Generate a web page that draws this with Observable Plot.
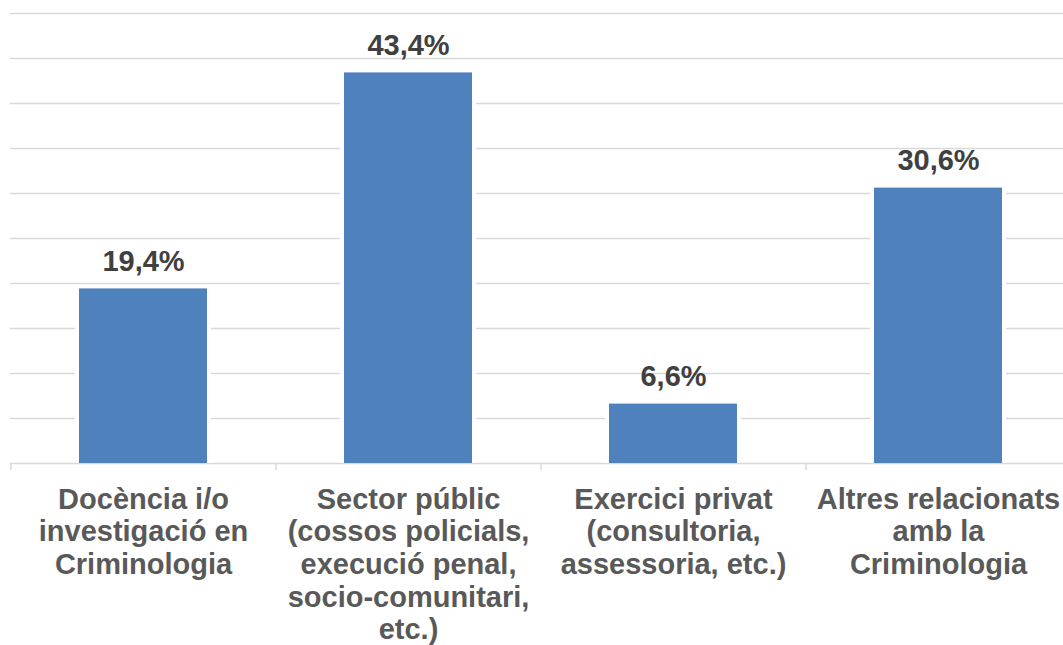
<!DOCTYPE html>
<html>
<head>
<meta charset="utf-8">
<script src="https://cdn.jsdelivr.net/npm/d3@7"></script>
<script src="https://cdn.jsdelivr.net/npm/@observablehq/plot@0.6"></script>
<style>
  html, body { margin: 0; padding: 0; background: #fff; overflow: hidden; }
  #chart svg { display: block; font-family: "Liberation Sans", Arial, sans-serif; }
</style>
</head>
<body>
<div id="chart"></div>
<script>
const categories = [
  "Docència i/o\ninvestigació en\nCriminologia",
  "Sector públic\n(cossos policials,\nexecució penal,\nsocio-comunitari,\netc.)",
  "Exercici privat\n(consultoria,\nassessoria, etc.)",
  "Altres relacionats\namb la\nCriminologia"
];
const values = [19.4, 43.4, 6.6, 30.6];
const gridTicks = [0, 5, 10, 15, 20, 25, 30, 35, 40, 45, 50];

const data = categories.map((c, i) => ({cat: c, value: values[i]}));
const fmt = v => d3.format(".1f")(v).replace(".", ",") + "%";

const chart = Plot.plot({
  width: 1063,
  height: 645,
  marginTop: 13,
  marginBottom: 182,
  marginLeft: 10,
  marginRight: 0,
  style: {fontFamily: "'Liberation Sans', Arial, sans-serif", overflow: "visible"},
  x: {domain: categories, range: [10, 1070], paddingInner: 0.517, paddingOuter: 0.2585, axis: null},
  y: {domain: [0, 50], axis: null},
  marks: [
    Plot.ruleY(gridTicks, {stroke: "#d9d9d9", strokeWidth: 1.5}),
    Plot.ruleX(categories, {x: d => d, y1: 0, y2: 0, insetBottom: -7, dx: -132.5, stroke: "#d9d9d9", strokeWidth: 1.5}),
    Plot.barY(data, {x: "cat", y: "value", fill: "white", insetLeft: -4, insetRight: -4}),
    Plot.barY(data, {x: "cat", y: "value", fill: "#4F81BD"}),
    Plot.text(data, {x: "cat", y: "value", text: d => fmt(d.value), lineAnchor: "bottom", dy: -18,
      fontSize: 29, fontWeight: "bold", fill: "#404040"}),
    Plot.axisX({tickSize: 0, tickPadding: 22, fontSize: 29, fontWeight: "bold", fill: "#595959",
      lineHeight: 1.125, label: null})
  ]
});
document.getElementById("chart").appendChild(chart);
</script>
</body>
</html>
